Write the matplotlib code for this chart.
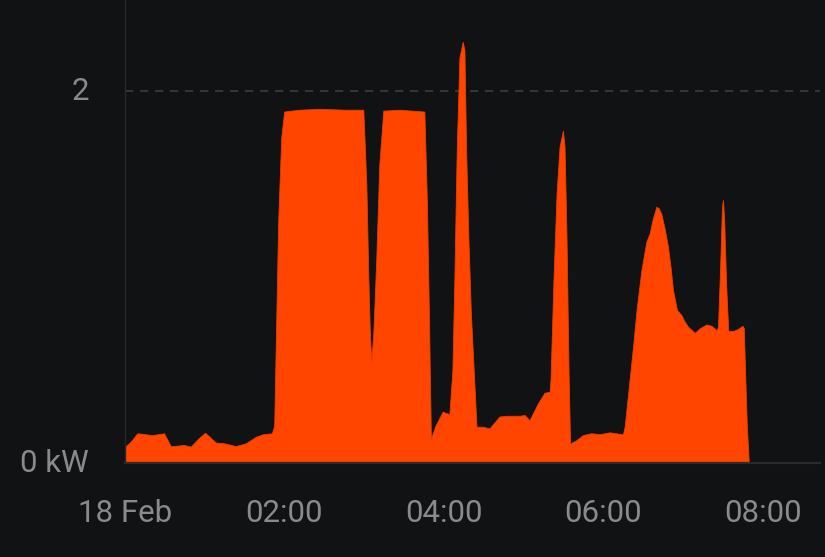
import matplotlib
matplotlib.use("Agg")
import matplotlib.pyplot as plt
from matplotlib.transforms import ScaledTranslation

# power readings, hours since midnight on 18 Feb
hours = [0.0, 0.072, 0.155, 0.343, 0.49, 0.574, 0.741, 0.825, 0.917, 1.005,
         1.139, 1.244, 1.39, 1.516, 1.642, 1.725, 1.843, 1.872, 1.89, 1.922,
         1.96, 1.997, 2.186, 2.437, 2.751, 2.99, 3.028, 3.053, 3.072, 3.09,
         3.116, 3.153, 3.19, 3.241, 3.442, 3.756, 3.788, 3.813, 3.838, 3.894,
         3.986, 4.07, 4.108, 4.133, 4.162, 4.196, 4.237, 4.259, 4.28, 4.309,
         4.34, 4.375, 4.41, 4.489, 4.573, 4.698, 4.783, 4.95, 5.013, 5.075,
         5.18, 5.264, 5.327, 5.339, 5.377, 5.415, 5.452, 5.494, 5.515, 5.54,
         5.565, 5.584, 5.653, 5.745, 5.85, 5.955, 6.08, 6.156, 6.247, 6.269,
         6.319, 6.374, 6.42, 6.479, 6.541, 6.583, 6.62, 6.667, 6.696, 6.729,
         6.771, 6.812, 6.846, 6.875, 6.925, 6.98, 7.022, 7.064, 7.148, 7.211,
         7.295, 7.357, 7.42, 7.44, 7.467, 7.49, 7.503, 7.518, 7.543, 7.569,
         7.629, 7.688, 7.747, 7.764, 7.783, 7.802, 7.827]
kw = [0.087, 0.115, 0.16, 0.15, 0.16, 0.09, 0.097, 0.088, 0.13, 0.163,
      0.11, 0.106, 0.091, 0.106, 0.141, 0.154, 0.16, 0.2, 0.6, 1.3,
      1.75, 1.89, 1.9, 1.905, 1.9, 1.9, 1.5, 1.0, 0.7, 0.55,
      0.7, 1.1, 1.6, 1.895, 1.9, 1.89, 1.4, 0.8, 0.13, 0.2,
      0.276, 0.262, 0.5, 1.0, 1.68, 2.18, 2.265, 2.22, 1.68, 1.2,
      0.8, 0.5, 0.195, 0.195, 0.186, 0.25, 0.254, 0.254, 0.258, 0.23,
      0.32, 0.378, 0.383, 0.45, 1.0, 1.45, 1.7, 1.787, 1.7, 1.2,
      0.5, 0.105, 0.12, 0.15, 0.16, 0.155, 0.165, 0.16, 0.154, 0.195,
      0.4, 0.625, 0.83, 1.037, 1.19, 1.235, 1.31, 1.378, 1.37, 1.34,
      1.26, 1.163, 1.05, 0.93, 0.823, 0.796, 0.76, 0.733, 0.70, 0.724,
      0.745, 0.738, 0.715, 0.73, 1.05, 1.38, 1.414, 1.3, 0.95, 0.71,
      0.71, 0.72, 0.738, 0.725, 0.45, 0.2, 0.0]

x_ticks = [0, 2, 4, 6, 8]
x_labels = ["18 Feb", "02:00", "04:00", "06:00", "08:00"]
y_ticks = [0, 2]
y_labels = ["0 kW", "2"]

bg = "#111214"
fig = plt.figure(figsize=(8.25, 5.57), dpi=100, facecolor=bg)
ax = fig.add_axes([125 / 825, 94 / 557, 695 / 825, 463 / 557], facecolor=bg)

ax.fill_between(hours, kw, 0, color="#ff4500", linewidth=0.6, edgecolor="#e84000")

ax.set_xlim(0, 8.72)
ax.set_ylim(0, 2.49)

ax.axhline(2, color="#3c3d40", linewidth=1.2, linestyle=(0, (5, 4)), zorder=0)

for side in ["top", "right"]:
    ax.spines[side].set_visible(False)
ax.spines["left"].set_color("#26272a")
ax.spines["left"].set_linewidth(1.0)
ax.spines["bottom"].set_color("#2a2b2e")
ax.spines["bottom"].set_linewidth(1.6)
ax.spines["bottom"].set_zorder(5)

ax.set_xticks(x_ticks)
ax.set_xticklabels(x_labels)
ax.set_yticks(y_ticks)
ax.set_yticklabels(y_labels)
ax.tick_params(axis="both", length=0, colors="#8a8a8a", labelsize=22.5)
ax.tick_params(axis="x", pad=26)
ax.tick_params(axis="y", pad=26)
for lab in ax.get_xticklabels() + ax.get_yticklabels():
    lab.set_family("Roboto")

# nudge y labels up a few pixels
up = ScaledTranslation(0, 3 / 100, fig.dpi_scale_trans)
for lab in ax.get_yticklabels():
    lab.set_transform(lab.get_transform() + up)

fig.savefig("out.png", dpi=100, facecolor=bg)
